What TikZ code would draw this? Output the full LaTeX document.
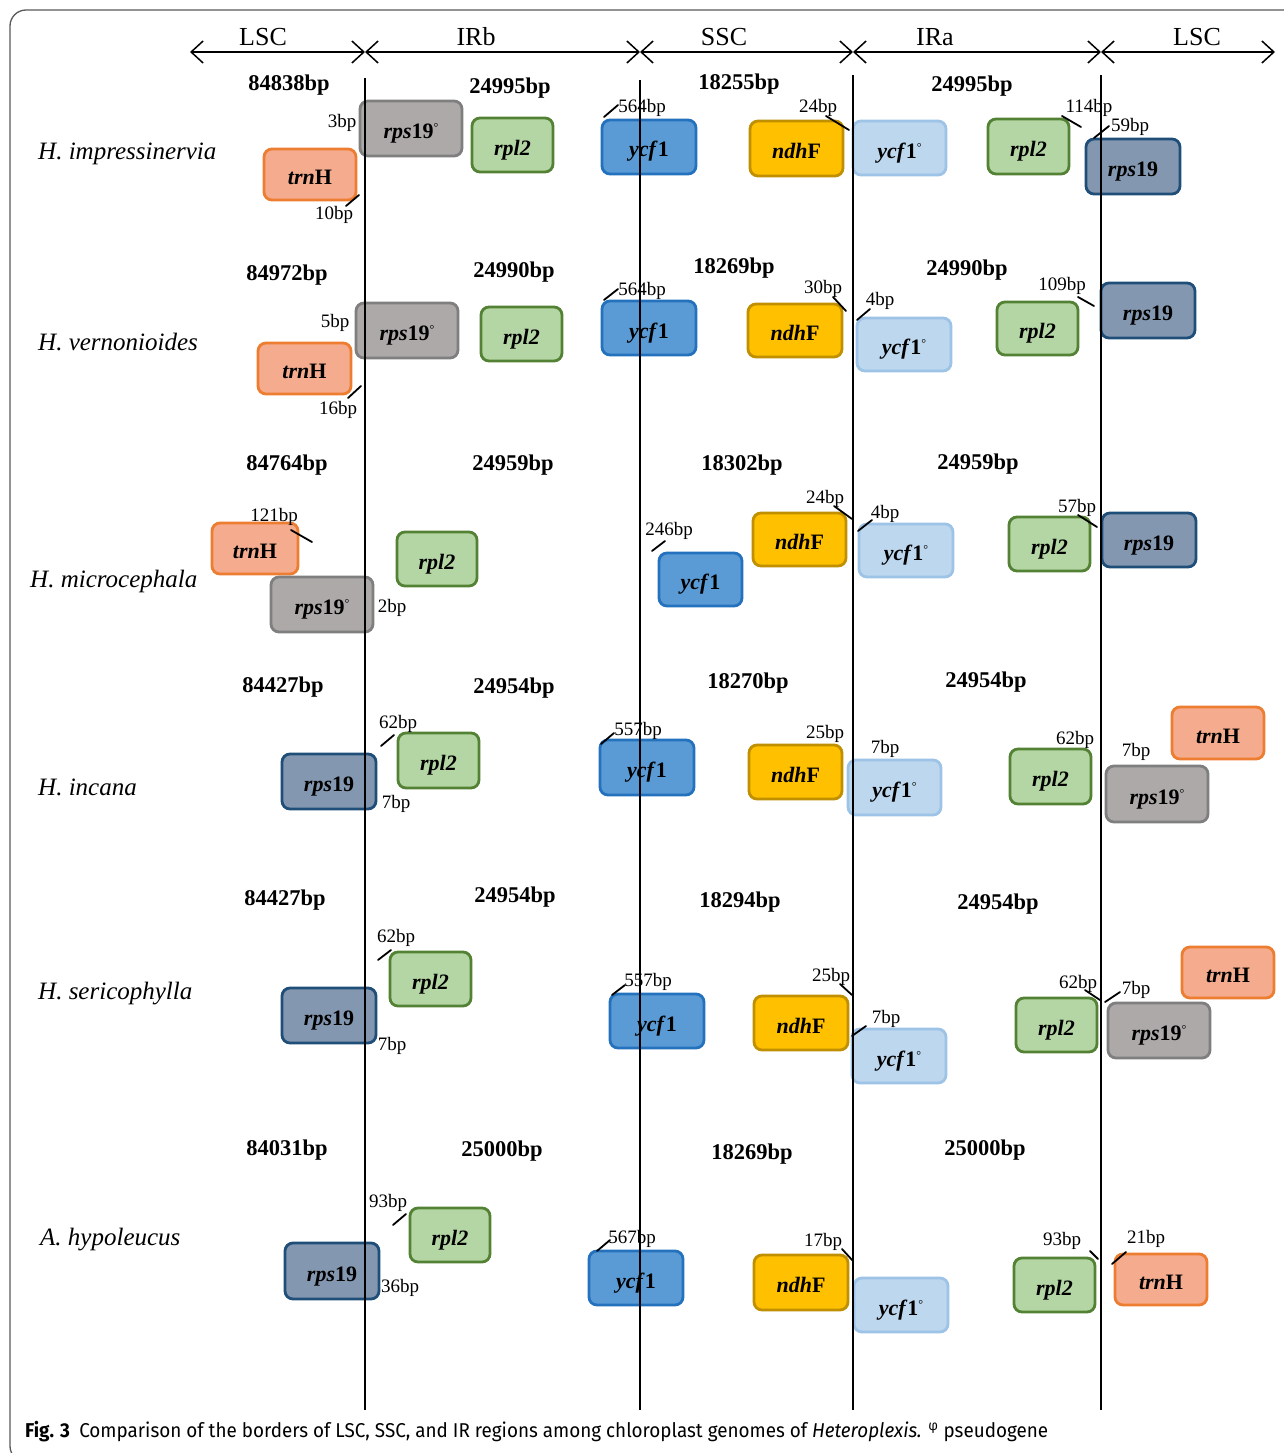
\documentclass[tikz,border=0pt]{standalone}
\usepackage{fontspec}
\setmainfont{Liberation Serif}
\newfontfamily\capfont{Fira Sans}
\usepackage{graphicx}
\usetikzlibrary{arrows.meta}
\definecolor{trnF}{HTML}{F5AB8D}\definecolor{trnD}{HTML}{ED7D31}
\definecolor{rpspF}{HTML}{ADA9A8}\definecolor{rpspD}{HTML}{7F7F7F}
\definecolor{rplF}{HTML}{B4D6A4}\definecolor{rplD}{HTML}{548235}
\definecolor{ycfF}{HTML}{5B9BD5}\definecolor{ycfD}{HTML}{2472BE}
\definecolor{ndhF}{HTML}{FFC000}\definecolor{ndhD}{HTML}{C09000}
\definecolor{ycfpF}{HTML}{BDD7EE}\definecolor{ycfpD}{HTML}{9DC3E6}
\definecolor{rpsF}{HTML}{8497B0}\definecolor{rpsD}{HTML}{1F4E79}
\definecolor{frameC}{HTML}{5A5A5A}
\newcommand\pmark{\raisebox{7pt}{\fontsize{12}{12}\selectfont\mdseries °}}
\newcommand\gtrn{\textit{trn}H}
\newcommand\grps{\textit{rps}19}
\newcommand\grpsp{\textit{rps}19\pmark}
\newcommand\grpl{\textit{rpl2}}
\newcommand\gycf{\textit{ycf}1}
\newcommand\gycfp{\textit{ycf}1\pmark}
\newcommand\gndh{\textit{ndh}F}
\newcommand\gene[7]{\node[genebox,#2,minimum width={#5-#3},minimum height={#6-#4}] (#1) at ({(#3+#5)/2},{(#4+#6)/2}) {#7};}
\newcommand\tk[5]{\coordinate (#1s) at (#2,#3); \coordinate (#1e) at (#4,#5); \draw[tickline] (#1s) -- (#1e);}
\newcommand\lab[4]{\node[smalllab] (#1) at (#2,#3) {#4};}
\newcommand\bpl[4]{\node[bplab] (#1) at (#2,#3) {#4};}
\tikzset{
  genebox/.style={draw, rounded corners=8pt, line width=2.8pt, inner sep=0pt, outer sep=0pt,
    text height=20pt, text depth=0pt,
    font=\fontsize{22}{24}\selectfont\bfseries, text=black},
  trnbox/.style={fill=trnF, draw=trnD},
  rpspbox/.style={fill=rpspF, draw=rpspD},
  rplbox/.style={fill=rplF, draw=rplD},
  ycfbox/.style={fill=ycfF, draw=ycfD},
  ndhbox/.style={fill=ndhF, draw=ndhD},
  ycfpbox/.style={fill=ycfpF, draw=ycfpD},
  rpsbox/.style={fill=rpsF, draw=rpsD},
  bplab/.style={font=\fontsize{22.5}{24}\selectfont\bfseries, inner sep=0pt},
  smalllab/.style={font=\fontsize{19}{20}\selectfont, inner sep=0pt},
  splab/.style={font=\fontsize{25}{28}\selectfont\itshape, anchor=west, inner sep=0pt},
  hdrlab/.style={font=\fontsize{26}{28}\selectfont, inner sep=0pt},
  tickline/.style={line width=1.8pt, line cap=round},
  hdrarrow/.style={line width=1.5pt, {Straight Barb[length=12pt,width=22pt,line width=1.5pt]}-{Straight Barb[length=12pt,width=22pt,line width=1.5pt]}},
  vline/.style={line width=2pt},
}
\begin{document}
\begin{tikzpicture}[x=1pt,y=-1pt]
\clip (0,0) rectangle (1284,1453);
\useasboundingbox (0,0) rectangle (1284,1453);
\fill[white] (0,0) rectangle (1284,1453);
\draw[frameC, line width=1.3pt, rounded corners=16pt] (10,10) rectangle (1320,1462);
% header
\foreach \n/\x in {0/190,1/365,2/640,3/853,4/1101,5/1275}{\coordinate (h\n) at (\x,52);}
\draw[hdrarrow] (h0) -- (h1);
\draw[hdrarrow] (h1) -- (h2);
\draw[hdrarrow] (h2) -- (h3);
\draw[hdrarrow] (h3) -- (h4);
\draw[hdrarrow] (h4) -- (h5);
\node[hdrlab] (t1) at (263,37) {LSC};
\node[hdrlab] (t2) at (476,37) {IRb};
\node[hdrlab] (t3) at (724,37) {SSC};
\node[hdrlab] (t4) at (935,37) {IRa};
\node[hdrlab] (t5) at (1197,37) {LSC};
% species
\node[splab] (s1) at (38,154) {H. impressinervia};
\node[splab] (s2) at (38,342) {H. vernonioides};
\node[splab] (s3) at (30,581) {H. microcephala};
\node[splab] (s4) at (38,787) {H. incana};
\node[splab] (s5) at (38,994) {H. sericophylla};
\node[splab] (s6) at (40,1240) {A. hypoleucus};
% bp lengths
\bpl{b11}{289}{85}{84838bp}\bpl{b12}{510}{88}{24995bp}\bpl{b13}{739}{84}{18255bp}\bpl{b14}{972}{86}{24995bp}
\bpl{b21}{287}{275}{84972bp}\bpl{b22}{514}{272}{24990bp}\bpl{b23}{734}{268}{18269bp}\bpl{b24}{967}{270}{24990bp}
\bpl{b31}{287}{465}{84764bp}\bpl{b32}{513}{465}{24959bp}\bpl{b33}{742}{465}{18302bp}\bpl{b34}{978}{464}{24959bp}
\bpl{b41}{283}{687}{84427bp}\bpl{b42}{514}{688}{24954bp}\bpl{b43}{748}{683}{18270bp}\bpl{b44}{986}{682}{24954bp}
\bpl{b51}{285}{900}{84427bp}\bpl{b52}{515}{897}{24954bp}\bpl{b53}{740}{902}{18294bp}\bpl{b54}{998}{904}{24954bp}
\bpl{b61}{287}{1150}{84031bp}\bpl{b62}{502}{1151}{25000bp}\bpl{b63}{752}{1154}{18269bp}\bpl{b64}{985}{1150}{25000bp}
% row 1
\gene{a1}{trnbox}{264}{149}{356}{200}{\gtrn}
\gene{a2}{rpspbox}{360}{101}{462}{156}{\grpsp}
\gene{a3}{rplbox}{472}{118}{553}{172}{\grpl}
\gene{a4}{ycfbox}{602}{120}{696}{174}{\gycf}
\gene{a5}{ndhbox}{750}{121}{843}{176}{\gndh}
\gene{a6}{ycfpbox}{853}{121}{946}{175}{\gycfp}
\gene{a7}{rplbox}{988}{119}{1069}{174}{\grpl}
\gene{a8}{rpsbox}{1086}{139}{1180}{194}{\grps}
\lab{l11}{342}{123}{3bp}
\lab{l12}{334}{215}{10bp}\tk{k12}{346}{206}{359}{195}
\lab{l13}{642}{108}{564bp}\tk{k13}{604}{117}{618}{105}
\lab{l14}{818}{108}{24bp}\tk{k14}{826}{116}{849}{130}
\lab{l15}{1089}{108}{114bp}\tk{k15}{1062}{116}{1081}{127}
\lab{l16}{1130}{127}{59bp}\tk{k16}{1094}{138}{1109}{126}
% row 2
\gene{c1}{trnbox}{258}{343}{351}{394}{\gtrn}
\gene{c2}{rpspbox}{356}{303}{458}{358}{\grpsp}
\gene{c3}{rplbox}{481}{307}{562}{361}{\grpl}
\gene{c4}{ycfbox}{602}{301}{696}{355}{\gycf}
\gene{c5}{ndhbox}{748}{304}{842}{357}{\gndh}
\gene{c6}{ycfpbox}{857}{318}{951}{371}{\gycfp}
\gene{c7}{rplbox}{997}{302}{1078}{355}{\grpl}
\gene{c8}{rpsbox}{1101}{283}{1195}{338}{\grps}
\lab{l21}{335}{323}{5bp}
\lab{l22}{338}{410}{16bp}\tk{k22}{348}{398}{361}{386}
\lab{l23}{642}{291}{564bp}\tk{k23}{604}{300}{618}{289}
\lab{l24}{823}{289}{30bp}\tk{k24}{833}{297}{846}{311}
\lab{l25}{880}{301}{4bp}\tk{k25}{857}{320}{870}{309}
\lab{l26}{1062}{286}{109bp}\tk{k26}{1078}{297}{1094}{306}
% row 3
\gene{d1}{trnbox}{212}{523}{298}{574}{\gtrn}
\gene{d2}{rpspbox}{271}{577}{373}{632}{\grpsp}
\gene{d3}{rplbox}{397}{532}{477}{586}{\grpl}
\gene{d4}{ycfbox}{659}{553}{742}{606}{\gycf}
\gene{d5}{ndhbox}{753}{513}{846}{566}{\gndh}
\gene{d6}{ycfpbox}{859}{524}{953}{577}{\gycfp}
\gene{d7}{rplbox}{1009}{517}{1090}{571}{\grpl}
\gene{d8}{rpsbox}{1102}{513}{1196}{567}{\grps}
\lab{l31}{274}{517}{121bp}\tk{k31}{291}{530}{312}{542}
\lab{l32}{392}{608}{2bp}
\lab{l33}{669}{531}{246bp}\tk{k33}{652}{551}{665}{541}
\lab{l34}{825}{499}{24bp}\tk{k34}{834}{506}{852}{519}
\lab{l35}{885}{514}{4bp}\tk{k35}{858}{531}{872}{520}
\lab{l36}{1077}{508}{57bp}\tk{k36}{1078}{515}{1097}{527}
% row 4
\gene{e1}{rpsbox}{282}{754}{376}{809}{\grps}
\gene{e2}{rplbox}{398}{733}{479}{788}{\grpl}
\gene{e3}{ycfbox}{600}{740}{694}{795}{\gycf}
\gene{e4}{ndhbox}{749}{745}{842}{799}{\gndh}
\gene{e5}{ycfpbox}{848}{760}{941}{815}{\gycfp}
\gene{e6}{rplbox}{1010}{749}{1091}{804}{\grpl}
\gene{e7}{trnbox}{1172}{707}{1264}{759}{\gtrn}
\gene{e8}{rpspbox}{1106}{766}{1208}{822}{\grpsp}
\lab{l41}{398}{724}{62bp}\tk{k41}{381}{746}{394}{735}
\lab{l42}{396}{804}{7bp}
\lab{l43}{638}{731}{557bp}\tk{k43}{601}{744}{614}{733}
\lab{l44}{825}{734}{25bp}
\lab{l45}{885}{749}{7bp}
\lab{l46}{1075}{740}{62bp}
\lab{l47}{1136}{752}{7bp}
% row 5
\gene{f1}{rpsbox}{282}{988}{376}{1043}{\grps}
\gene{f2}{rplbox}{390}{952}{471}{1006}{\grpl}
\gene{f3}{ycfbox}{610}{994}{704}{1048}{\gycf}
\gene{f4}{ndhbox}{754}{996}{848}{1050}{\gndh}
\gene{f5}{ycfpbox}{852}{1029}{946}{1083}{\gycfp}
\gene{f6}{rplbox}{1016}{998}{1097}{1052}{\grpl}
\gene{f7}{trnbox}{1182}{947}{1274}{998}{\gtrn}
\gene{f8}{rpspbox}{1108}{1003}{1210}{1058}{\grpsp}
\lab{l51}{396}{938}{62bp}\tk{k51}{378}{960}{391}{950}
\lab{l52}{392}{1046}{7bp}
\lab{l53}{648}{982}{557bp}\tk{k53}{612}{995}{625}{985}
\lab{l54}{831}{977}{25bp}\tk{k54}{840}{984}{852}{995}
\lab{l55}{886}{1019}{7bp}\tk{k55}{852}{1036}{866}{1026}
\lab{l56}{1078}{984}{62bp}\tk{k56}{1085}{990}{1100}{1000}
\lab{l57}{1136}{990}{7bp}\tk{k57}{1105}{1002}{1120}{992}
% row 6
\gene{g1}{rpsbox}{285}{1243}{379}{1299}{\grps}
\gene{g2}{rplbox}{410}{1208}{490}{1262}{\grpl}
\gene{g3}{ycfbox}{589}{1251}{683}{1305}{\gycf}
\gene{g4}{ndhbox}{754}{1255}{848}{1310}{\gndh}
\gene{g5}{ycfpbox}{854}{1278}{948}{1332}{\gycfp}
\gene{g6}{rplbox}{1014}{1258}{1095}{1312}{\grpl}
\gene{g7}{trnbox}{1115}{1254}{1207}{1305}{\gtrn}
\lab{l61}{388}{1203}{93bp}\tk{k61}{393}{1225}{406}{1214}
\lab{l62}{400}{1288}{36bp}
\lab{l63}{632}{1239}{567bp}\tk{k63}{597}{1251}{610}{1240}
\lab{l64}{823}{1242}{17bp}\tk{k64}{842}{1249}{853}{1261}
\lab{l65}{1062}{1241}{93bp}\tk{k65}{1090}{1251}{1098}{1259}
\lab{l66}{1146}{1239}{21bp}\tk{k66}{1112}{1264}{1126}{1252}
% border lines
\coordinate (v1t) at (365,78); \coordinate (v1b) at (365,1410);
\coordinate (v2t) at (640,80); \coordinate (v2b) at (640,1410);
\coordinate (v3t) at (853,75); \coordinate (v3b) at (853,1410);
\coordinate (v4t) at (1101,75); \coordinate (v4b) at (1101,1410);
\draw[vline] (v1t) -- (v1b);
\draw[vline] (v2t) -- (v2b);
\draw[vline] (v3t) -- (v3b);
\draw[vline] (v4t) -- (v4b);
% caption
\node[anchor=west, inner sep=0pt] (cap) at (25,1432) {\resizebox{1023pt}{\height}{\capfont\fontsize{20}{24}\selectfont\textbf{Fig. 3}\hspace{10pt}Comparison of the borders of LSC, SSC, and IR regions among chloroplast genomes of \textit{Heteroplexis.} \textsuperscript{φ} pseudogene}};
\end{tikzpicture}
\end{document}
